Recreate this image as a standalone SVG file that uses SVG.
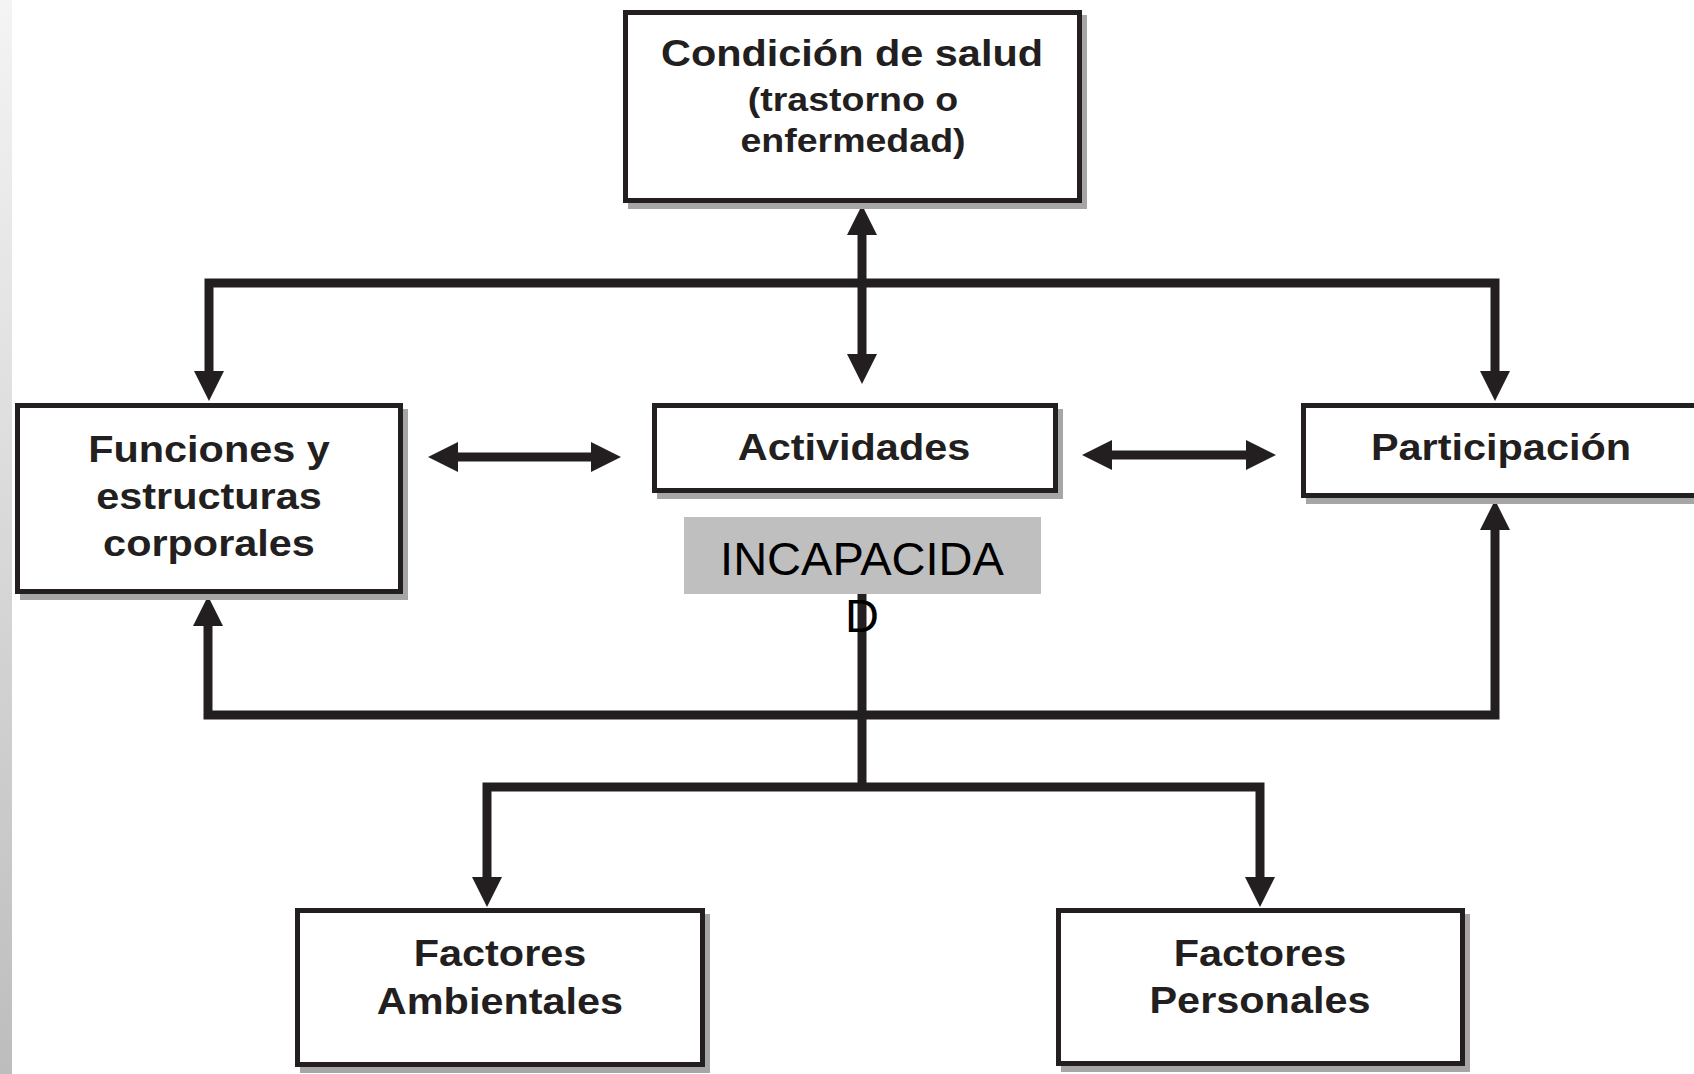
<svg xmlns="http://www.w3.org/2000/svg" width="1694" height="1074" viewBox="0 0 1694 1074">
  <style>
    .shadow { fill: #a6a6a6; }
    .box { fill: #ffffff; stroke: #231f20; stroke-width: 5; }
    .lbl { font-family: "Liberation Sans", Arial, sans-serif; font-weight: bold; fill: #231f20; text-anchor: middle; }
    .conn { fill: none; stroke: #231f20; stroke-width: 9; stroke-linejoin: miter; stroke-linecap: butt; }
    .arr { marker-start: url(#ah); marker-end: url(#ah); }
    .incap { font-family: "Liberation Sans", Arial, sans-serif; font-size: 47px; fill: #000000; text-anchor: middle; }
  </style>
  <defs>
    <linearGradient id="strip" x1="0" y1="0" x2="0" y2="1">
      <stop offset="0" stop-color="#f4f4f4"/>
      <stop offset="1" stop-color="#bdbdbd"/>
    </linearGradient>
    <marker id="ah" markerUnits="userSpaceOnUse" viewBox="0 0 30 30" markerWidth="30" markerHeight="30" refX="1" refY="15" orient="auto-start-reverse">
      <path d="M0,0 L30,15 L0,30 Z" fill="#231f20"/>
    </marker>
  </defs>

  <rect x="0" y="0" width="1694" height="1074" fill="#ffffff"/>
  <rect x="0" y="0" width="12" height="1074" fill="url(#strip)"/>

  <g id="connectors">
    <path class="conn arr" d="M1495,372 V283 H209 V372"/>
    <path class="conn arr" d="M862,234 V355"/>
    <path class="conn arr" d="M457,457 H592"/>
    <path class="conn arr" d="M1111,455 H1247"/>
    <path class="conn arr" d="M208,625 V715 H1495 V529"/>
    <path class="conn" d="M862,594 V787"/>
    <path class="conn arr" d="M487,878 V787 H1260 V878"/>
  </g>

  <g id="condicion">
    <rect class="shadow" x="628" y="15" width="459" height="194"/>
    <rect class="box" x="625.5" y="12.5" width="454" height="188"/>
    <text class="lbl" transform="translate(852,66) scale(1.12,1)" font-size="37">Condición de salud</text>
    <text class="lbl" transform="translate(853,111) scale(1.12,1)" font-size="33.5">(trastorno o</text>
    <text class="lbl" transform="translate(853,152) scale(1.12,1)" font-size="33.5">enfermedad)</text>
  </g>

  <g id="funciones">
    <rect class="shadow" x="20" y="409" width="388" height="191"/>
    <rect class="box" x="17.5" y="405.5" width="383" height="186"/>
    <text class="lbl" transform="translate(209,462) scale(1.12,1)" font-size="37">Funciones y</text>
    <text class="lbl" transform="translate(209,509) scale(1.12,1)" font-size="37">estructuras</text>
    <text class="lbl" transform="translate(209,556) scale(1.12,1)" font-size="37">corporales</text>
  </g>

  <g id="actividades">
    <rect class="shadow" x="657" y="409" width="406" height="90"/>
    <rect class="box" x="654.5" y="405.5" width="401" height="85"/>
    <text class="lbl" transform="translate(854,460) scale(1.12,1)" font-size="37">Actividades</text>
  </g>

  <g id="participacion">
    <rect class="shadow" x="1306" y="409" width="420" height="95"/>
    <rect class="box" x="1303.5" y="405.5" width="420" height="90"/>
    <text class="lbl" transform="translate(1501,460) scale(1.12,1)" font-size="37">Participación</text>
  </g>

  <g id="incapacidad">
    <rect x="684" y="517" width="357" height="77" fill="#bfbfbf"/>
    <text class="incap" x="862" y="575">INCAPACIDA</text>
    <text class="incap" x="862" y="632">D</text>
  </g>

  <g id="factores-ambientales">
    <rect class="shadow" x="300" y="914" width="410" height="159"/>
    <rect class="box" x="297.5" y="910.5" width="405" height="154"/>
    <text class="lbl" transform="translate(500,966) scale(1.12,1)" font-size="37">Factores</text>
    <text class="lbl" transform="translate(500,1014) scale(1.12,1)" font-size="37">Ambientales</text>
  </g>

  <g id="factores-personales">
    <rect class="shadow" x="1061" y="914" width="409" height="158"/>
    <rect class="box" x="1058.5" y="910.5" width="404" height="153"/>
    <text class="lbl" transform="translate(1260,966) scale(1.12,1)" font-size="37">Factores</text>
    <text class="lbl" transform="translate(1260,1013) scale(1.12,1)" font-size="37">Personales</text>
  </g>
</svg>
